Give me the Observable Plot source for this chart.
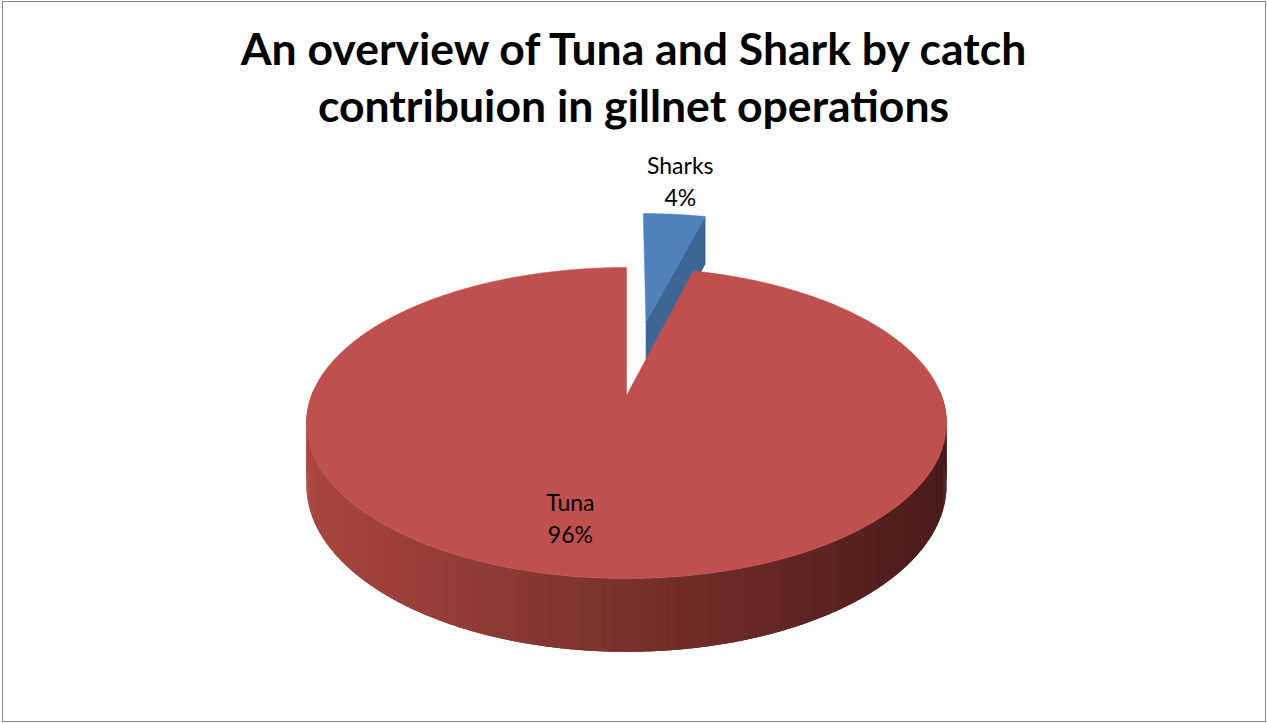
<!DOCTYPE html>
<html><head><meta charset="utf-8">
<script src="https://cdn.jsdelivr.net/npm/d3@7"></script>
<script src="https://cdn.jsdelivr.net/npm/@observablehq/plot@0.6"></script>
<style>
body{margin:0;background:#fff;}
#frame{position:absolute;left:2px;top:1px;width:1264px;height:721px;border:1px solid #8a8a8a;box-sizing:border-box;}
#title{position:absolute;left:0;top:19px;width:1267px;text-align:center;font-family:Lato,"Open Sans",sans-serif;font-weight:700;font-size:44.5px;line-height:57px;color:#000;}
#chart{position:absolute;left:0;top:140px;}
</style></head><body>
<div id="frame"></div>
<div id="title">An overview of Tuna and Shark by catch<br>contribuion in gillnet operations</div>
<div id="chart"></div>
<script>
// ---- data ----
const categories = ["Sharks", "Tuna"];
const shares = [4, 96];
const percentLabels = ["4%", "96%"];
const explodeBy = [0.54, 0];
const topColors = ["#4F81BD", "#C0504D"];
const faceColors = ["#3D6695", "#8A3A37"];

// ---- geometry config ----
const K = 0.177;     // perspective strength
const H = 0.40;      // slice thickness (in y units)
const labelR = [1.25, 0.75];
const labelDx = [0, -22];
const labelDy = [-12, -8];
const rad = d => d * Math.PI / 180;
const total = d3.sum(shares);
function proj(u, v, drop = 0) {
  const s = 1 / (1 - K * v);
  return {x: u * s, y: (v + drop) * s};
}

// slice angles (clockwise from 12 o'clock)
let acc = 0;
const slices = categories.map((c, i) => {
  const a0 = acc / total * 360; acc += shares[i];
  const a1 = acc / total * 360;
  const mid = (a0 + a1) / 2;
  const ox = explodeBy[i] * Math.sin(rad(mid)), oy = -explodeBy[i] * Math.cos(rad(mid));
  return {c, i, a0, a1, mid, ox, oy};
});

function topFace(s) {
  const pts = [proj(s.ox, s.oy)];
  const n = Math.max(2, Math.ceil((s.a1 - s.a0) * 2));
  for (let j = 0; j <= n; j++) {
    const t = rad(s.a0 + (s.a1 - s.a0) * j / n);
    pts.push(proj(s.ox + Math.sin(t), s.oy - Math.cos(t)));
  }
  pts.push(proj(s.ox, s.oy));
  return pts;
}
function endFace(s) { // radial cut face at a1
  const t = rad(s.a1);
  const ux = s.ox + Math.sin(t), vy = s.oy - Math.cos(t);
  return [proj(s.ox, s.oy), proj(ux, vy), proj(ux, vy, H), proj(s.ox, s.oy, H), proj(s.ox, s.oy)];
}
function sideStrips(s) {
  const out = [];
  const lo = Math.max(s.a0, 88), hi = Math.min(s.a1, 272);
  const step = 0.5;
  for (let a = lo; a < hi; a += step) {
    const b = Math.min(a + step * 2.2, hi);
    const pts = [];
    for (let t = a; t <= b + 1e-9; t += step / 2) pts.push(t);
    const topE = pts.map(d => proj(s.ox + Math.sin(rad(d)), s.oy - Math.cos(rad(d))));
    const botE = pts.slice().reverse().map(d => proj(s.ox + Math.sin(rad(d)), s.oy - Math.cos(rad(d)), H));
    const poly = topE.concat(botE);
    const cval = proj(s.ox + Math.sin(rad(a + step / 2)), s.oy - Math.cos(rad(a + step / 2))).x;
    poly.forEach(q => out.push({...q, id: s.c + a, c: cval}));
  }
  return out;
}

const sharks = slices[0], tuna = slices[1];
const labels = slices.map((s, i) => {
  const t = rad(s.mid);
  const p = proj(s.ox + labelR[i] * Math.sin(t), s.oy - labelR[i] * Math.cos(t));
  return {x: p.x, y: p.y, text: s.c + "\n" + percentLabels[i], dx: labelDx[i], dy: labelDy[i]};
});

const chart = Plot.plot({
  width: 1267, height: 583,
  margin: 0,
  style: {background: "transparent"},
  x: {domain: [-1, 1], range: [311, 941], axis: null},
  y: {domain: [-1, 1], range: [104.3, 405.7], axis: null},
  color: {type: "linear", domain: [-1.02, 1.02], range: ["#A9473F", "#4A1B1B"], interpolate: "rgb"},
  marks: [
    Plot.line(endFace(sharks), {x: "x", y: "y", fill: faceColors[0], stroke: faceColors[0], strokeWidth: 0.5}),
    Plot.line(topFace(sharks), {x: "x", y: "y", fill: topColors[0], stroke: topColors[0], strokeWidth: 0.5}),
    Plot.line(sideStrips(tuna), {x: "x", y: "y", z: "id", fill: "c", stroke: "none"}),
    Plot.line(topFace(tuna), {x: "x", y: "y", fill: topColors[1], stroke: topColors[1], strokeWidth: 0.5}),
    ...labels.map(l => Plot.text([l], {x: "x", y: "y", text: "text", dx: l.dx, dy: l.dy, fontSize: 23, lineHeight: 1.38,
      fontFamily: "Lato, 'Open Sans', sans-serif", fill: "#000"}))
  ]
});
document.getElementById("chart").appendChild(chart);
</script>
</body></html>
